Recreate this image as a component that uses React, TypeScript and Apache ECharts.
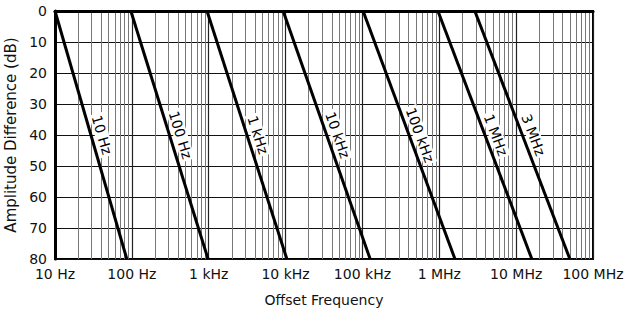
import React, { useEffect, useRef } from "react";
import * as echarts from "echarts";

// Axis tick labels
const xTickValues = [10, 100, 1e3, 1e4, 1e5, 1e6, 1e7, 1e8];
const xTickLabels = ["10 Hz", "100 Hz", "1 kHz", "10 kHz", "100 kHz", "1 MHz", "10 MHz", "100 MHz"];
const yTicks = [0, 10, 20, 30, 40, 50, 60, 70, 80];

// Curves: each drawn from 0 dB to 80 dB
const curveNames = ["10 Hz", "100 Hz", "1 kHz", "10 kHz", "100 kHz", "1 MHz", "3 MHz"];
const freqAt0dB = [10, 97, 950, 9300, 102000, 960000, 2900000];
const freqAt80dB = [86, 980, 10400, 126000, 1600000, 16000000, 50000000];
const dbTop = 0;
const dbBottom = 80;
const labelDb = 40;

const FONT = "DejaVu Sans";

export default function App() {
  const ref = useRef<HTMLDivElement>(null);
  useEffect(() => {
    document.body.style.margin = "0";
    if (!ref.current) return;
    const chart = echarts.init(ref.current, null, { renderer: "svg" });
    const series: any[] = curveNames.map((name, i) => ({
      type: "line",
      name,
      data: [
        [freqAt0dB[i], dbTop],
        [freqAt80dB[i], dbBottom],
      ],
      symbol: "none",
      silent: true,
      lineStyle: { color: "#000", width: 3 },
    }));
    chart.setOption({
      animation: false,
      grid: {
        left: 55,
        right: 35,
        top: 11,
        bottom: 53,
        show: true,
        borderColor: "#000",
        borderWidth: 2,
        outerBoundsMode: "none",
        containLabel: false,
      },
      xAxis: {
        type: "log",
        logBase: 10,
        min: 10,
        max: 1e8,
        name: "Offset Frequency",
        nameLocation: "middle",
        nameGap: 34,
        nameTextStyle: { fontFamily: FONT, fontSize: 14, color: "#111" },
        axisLine: { show: true, lineStyle: { color: "#000", width: 3 } },
        axisTick: { show: false },
        axisLabel: {
          fontFamily: FONT,
          fontSize: 14,
          color: "#111",
          margin: 8,
          formatter: (v: number) => {
            const idx = xTickValues.findIndex((t) => Math.abs(Math.log10(t) - Math.log10(v)) < 1e-6);
            return idx >= 0 ? xTickLabels[idx] : "";
          },
        },
        splitLine: { show: true, lineStyle: { color: "#222", width: 1.2 } },
        minorTick: { show: false, splitNumber: 9 },
        minorSplitLine: { show: true, lineStyle: { color: "#777", width: 1 } },
      },
      yAxis: {
        type: "value",
        inverse: true,
        min: 0,
        max: 80,
        interval: 10,
        name: "Amplitude Difference (dB)",
        nameLocation: "middle",
        nameGap: 30,
        nameTextStyle: { fontFamily: FONT, fontSize: 15, color: "#111" },
        axisLine: { show: true, lineStyle: { color: "#000", width: 3 } },
        axisTick: { show: false },
        axisLabel: {
          fontFamily: FONT,
          fontSize: 14,
          color: "#111",
          margin: 8,
          formatter: (v: number) => (yTicks.includes(v) ? String(v) : ""),
        },
        splitLine: { show: true, lineStyle: { color: "#111", width: 1.2 } },
      },
      series,
    });

    // Rotated curve labels, placed beside each curve at labelDb
    const graphics: any[] = curveNames.map((name, i) => {
      const p0 = chart.convertToPixel({ gridIndex: 0 }, [freqAt0dB[i], dbTop]) as number[];
      const p1 = chart.convertToPixel({ gridIndex: 0 }, [freqAt80dB[i], dbBottom]) as number[];
      const t = (labelDb - dbTop) / (dbBottom - dbTop);
      const mx = p0[0] + (p1[0] - p0[0]) * t;
      const my = p0[1] + (p1[1] - p0[1]) * t;
      const ang = Math.atan2(p1[1] - p0[1], p1[0] - p0[0]);
      return {
        type: "text",
        x: mx + 11,
        y: my,
        rotation: -ang,
        style: {
          text: name,
          fontFamily: FONT,
          fontSize: 14,
          fill: "#000",
          align: "center",
          verticalAlign: "middle",
          backgroundColor: "#fff",
          padding: [0, 2],
        },
        z: 10,
      };
    });
    chart.setOption({ graphic: graphics });
    return () => chart.dispose();
  }, []);
  return <div ref={ref} style={{ width: 628, height: 312 }} />;
}
